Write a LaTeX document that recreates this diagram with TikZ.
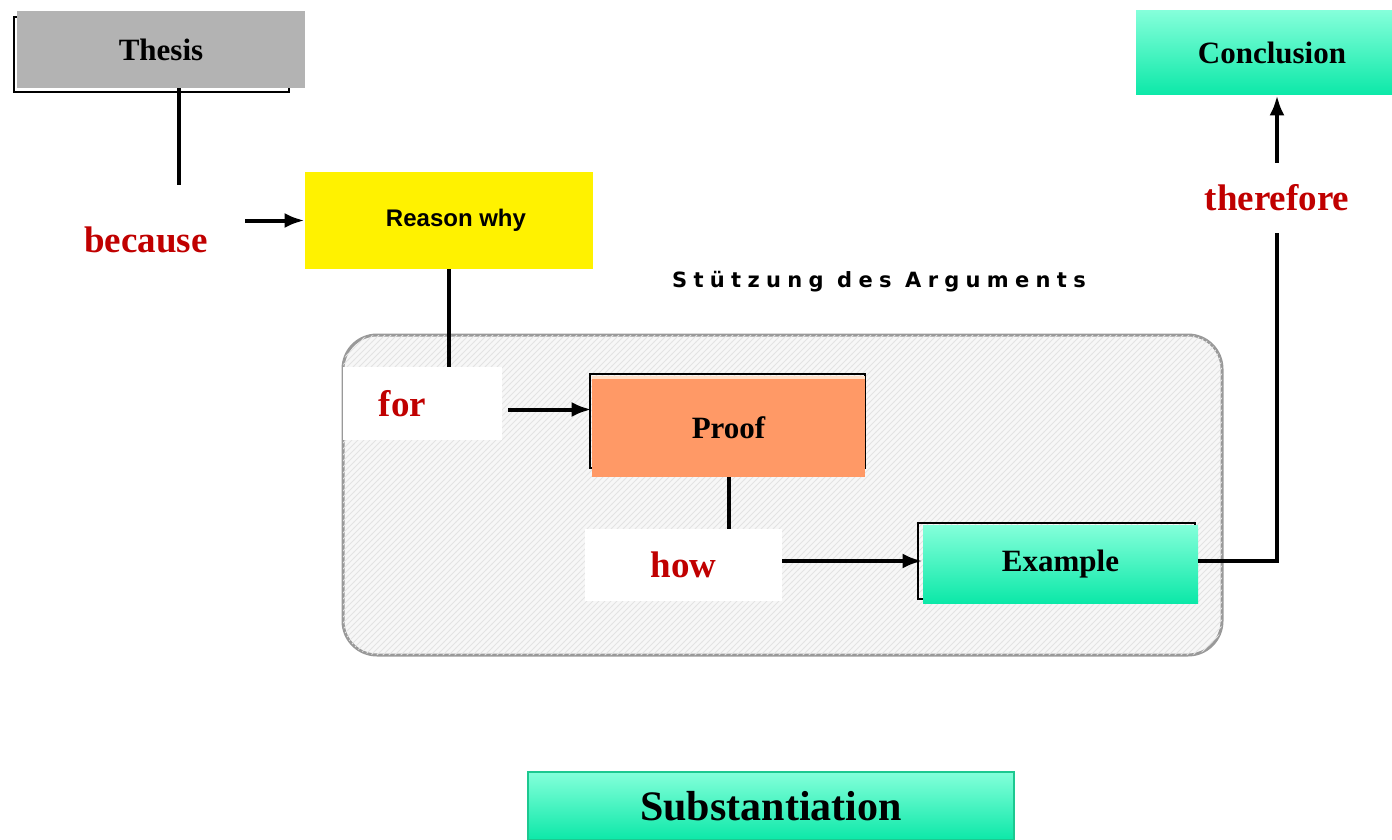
\documentclass[tikz,border=0pt]{standalone}
\usepackage{fontspec}
\setmainfont{Liberation Serif}
\newfontfamily\sansfont{Liberation Sans}
\newfontfamily\spacedfont[LetterSpace=30]{DejaVu Sans}
\usepackage{tikz}
\usetikzlibrary{patterns}
\usetikzlibrary{arrows.meta}
\usepackage{xcolor}
\definecolor{wordred}{HTML}{C00000}
\definecolor{thesisgray}{HTML}{B3B3B3}
\definecolor{proofor}{HTML}{FF9966}
\definecolor{proofstrip}{HTML}{FFE0C8}
\definecolor{mintTop}{HTML}{84FFDA}
\definecolor{mintBot}{HTML}{0CE8A8}
\definecolor{mintEdge}{HTML}{1CC890}
\definecolor{framegray}{HTML}{999999}

\begin{document}
\begin{tikzpicture}[x=0.5pt,y=-0.5pt,
  box/.style={inner sep=0pt, font=\fontsize{15.5}{18}\selectfont\bfseries},
  word/.style={inner sep=0pt, text=wordred, font=\fontsize{18.5}{22}\selectfont\bfseries},
  mint/.style={top color=mintTop, bottom color=mintBot},
  link/.style={line width=2pt},
  arrow/.style={link,-{Latex[length=10pt,width=7.5pt]}}]
\useasboundingbox (0,0) rectangle (1392,840);

% support frame
\node[draw=framegray, line width=1.5pt, rounded corners=17pt, minimum width=439.5pt, minimum height=160pt,
  fill=gray!6, postaction={pattern=north east lines, pattern color=gray!22}] (frame) at (782.5,495) {};
\node[font=\spacedfont\fontsize{10.5}{12}\selectfont\bfseries] (caption) at (879,282) {Stützung des Arguments};

% thesis
\draw[line width=0.8pt] (14,17) rectangle (289,92);
\node[box, fill=thesisgray, minimum width=144pt, minimum height=38.5pt] (thesis) at (161,49.5) {Thesis};
\node[word, minimum width=99pt, minimum height=55pt] (because) at (146,240) {because};
\node[fill=yellow, minimum width=144pt, minimum height=48.5pt,
  font=\sansfont\fontsize{12}{14}\selectfont\bfseries] (reason) at (449,220.5) {\hspace*{7pt}Reason why};

% proof and example
\node[word, fill=white, minimum width=79.5pt, minimum height=36.5pt] (for) at (422.5,403.5) {for\hspace*{20pt}};
\draw[line width=0.8pt] (590,374) rectangle (865,468);
\fill[proofstrip] (592,376) rectangle (865,380);
\node[box, fill=proofor, minimum width=136.5pt, minimum height=49pt] (proof) at (728.5,428) {Proof};
\node[word, fill=white, minimum width=98.5pt, minimum height=36pt] (how) at (683.5,565) {how};
\draw[line width=0.8pt] (918,523) rectangle (1195,599);
\node[box, mint, minimum width=137.5pt, minimum height=39pt] (example) at (1060.5,564) {Example};

% conclusion
\node[word, minimum height=35pt] (therefore) at (1277,198) {therefore};
\node[box, mint, minimum width=136pt, minimum height=42pt] (conclusion) at (1272,53) {Conclusion};
\node[mint, draw=mintEdge, line width=0.6pt, inner sep=0pt, minimum width=243pt, minimum height=34pt,
  font=\fontsize{21}{25}\selectfont\bfseries] (subst) at (771,806) {Substantiation};

% connectors
\coordinate (tdrop) at (179,185);
\draw[link] (thesis.south -| tdrop) -- (tdrop);
\draw[arrow] (because.east |- reason.west) -- (reason.west);
\draw[link] (reason.south) -- (reason.south |- for.north);
\draw[arrow, shorten <=3pt] ([yshift=-3pt]for.east) -- ([yshift=-3pt]for.east -| proof.west);
\draw[link] (proof.south) -- (proof.south |- how.north);
\draw[arrow] ([yshift=2pt]how.east) -- ([yshift=2pt]how.east -| example.west);
\draw[link] ([yshift=1.5pt]example.east) -| (therefore.south);
\draw[arrow] (therefore.north) -- (therefore.north |- conclusion.south);
\end{tikzpicture}
\end{document}
